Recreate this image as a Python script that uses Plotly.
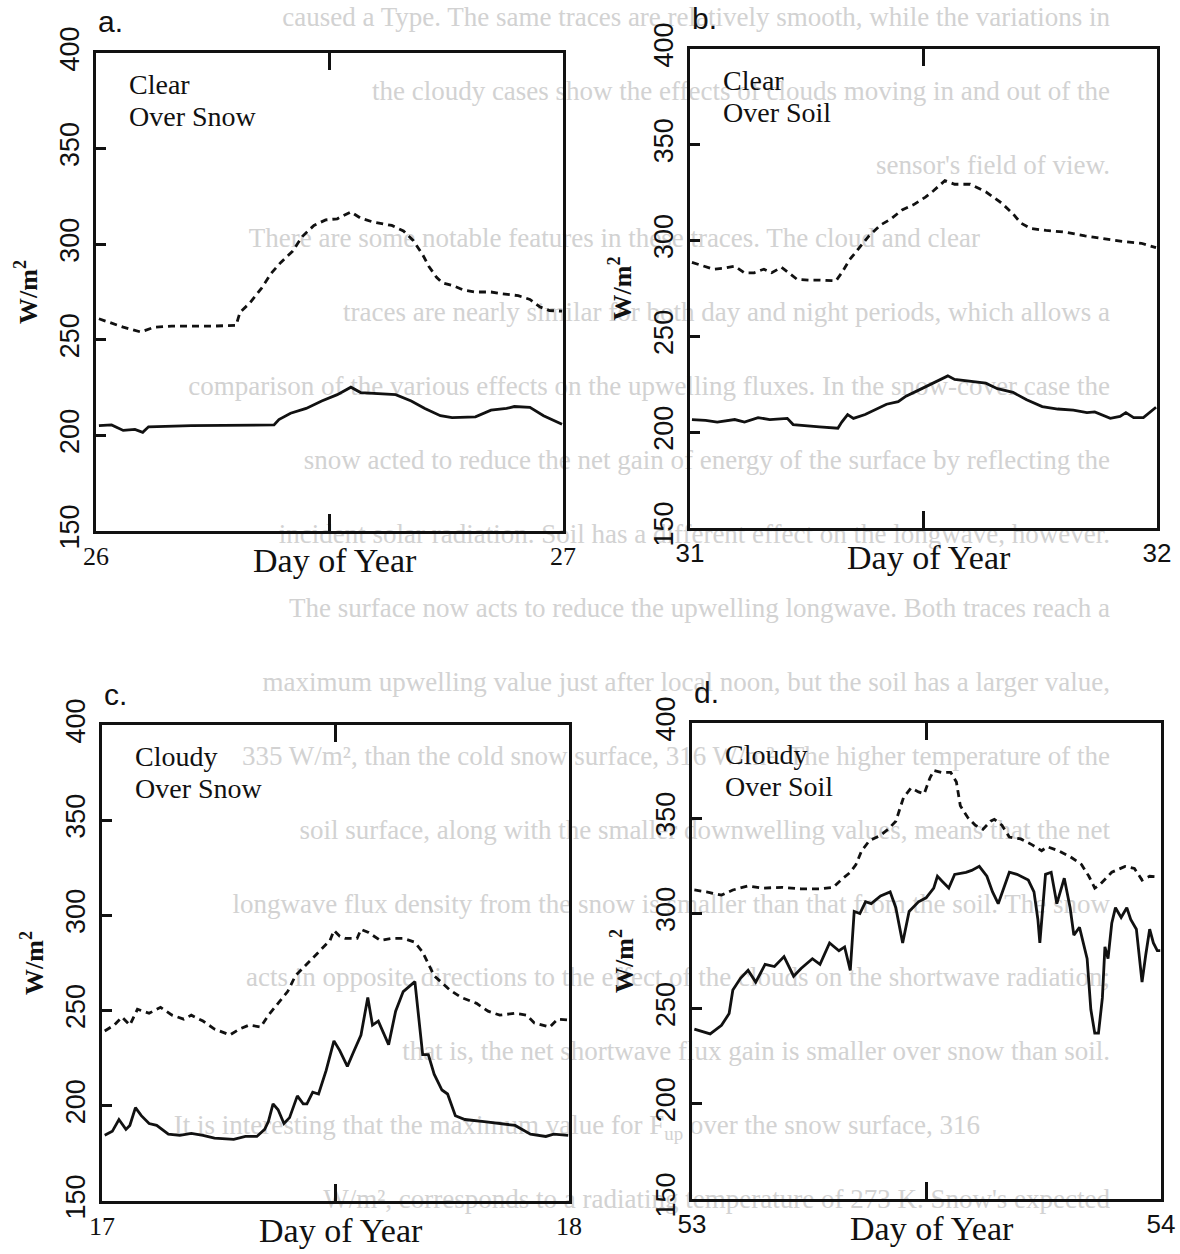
import plotly.graph_objects as go

# ---------------- data: hour of day (0-24) and upwelling flux (W/m^2) ----------------
# a. Clear, over snow (day 26)
a_dash_hr = [0.15, 0.8, 1.4, 2.3, 3.0, 3.9, 4.9, 6.1, 7.2, 7.4, 7.9, 8.5, 9.0, 9.5, 10.1, 10.6,
             11.2, 11.8, 12.4, 13.1, 13.6, 14.2, 15.2, 15.8, 16.3, 16.8, 17.1, 17.5, 17.8, 18.3,
             18.9, 19.5, 20.3, 20.9, 21.7, 22.3, 22.8, 23.3, 23.95]
a_dash_w = [261, 258.6, 256.6, 254.1, 256.6, 257.2, 257.2, 257.2, 257.6, 264.4, 269.2, 276.9,
            284.7, 290.5, 296.3, 304, 309.8, 312.7, 313.3, 316.9, 313.6, 311.7, 309.8, 306.9,
            302, 294.3, 288.5, 282.7, 279.8, 278.5, 276, 275, 275, 274, 273.1, 271.1, 267.3,
            265.3, 265]
a_solid_hr = [0.15, 0.8, 1.4, 2.0, 2.4, 2.7, 4.9, 9.15, 9.4, 10.0, 10.8, 11.6, 12.4, 13.1, 13.6,
              14.8, 15.4, 16.2, 16.9, 17.7, 18.3, 19.5, 20.3, 21.1, 21.5, 22.3, 23.0, 23.95]
a_solid_w = [205.1, 205.5, 202.6, 203.1, 201.6, 204.5, 205.1, 205.5, 208.3, 211.6, 214.1, 218,
             221.3, 225.2, 222.4, 221.7, 221.3, 218, 214.1, 210.3, 209.3, 209.7, 213.2, 214.1,
             215.1, 214.7, 210.3, 205.8]

# b. Clear, over soil (day 31)
b_dash_hr = [0.1, 0.6, 1.2, 1.7, 2.3, 2.8, 3.3, 3.8, 4.2, 4.7, 5.1, 5.5, 6.1, 6.7, 7.5, 7.8, 8.2,
             8.6, 9.2, 9.8, 10.3, 10.9, 11.5, 12.1, 12.5, 13.1, 13.6, 14.4, 15.2, 16.0, 16.6,
             17.0, 17.5, 18.3, 19.3, 20.3, 21.0, 22.2, 23.2, 23.95]
b_dash_w = [288.6, 287.1, 285.1, 285.5, 286.7, 283.2, 283.2, 285.1, 283.2, 286.1, 282.8, 279.8,
            279.4, 279.4, 279.0, 283.2, 290, 294.8, 302.5, 308.2, 311.1, 316, 318.8, 322.7,
            325.9, 331.3, 329.4, 329.4, 325.5, 319.7, 314, 309.2, 306.3, 305.3, 304.4, 302.5,
            301.5, 299.6, 298.6, 296.3]
b_solid_hr = [0.1, 0.8, 1.4, 2.3, 2.8, 3.5, 4.1, 4.7, 5.0, 5.3, 5.9, 6.65, 7.6, 7.8, 8.1, 8.4,
              9.0, 9.6, 10.1, 10.7, 11.1, 11.7, 12.5, 13.25, 13.6, 14.4, 15.2, 15.8, 16.6, 17.3,
              18.1, 18.9, 19.7, 20.4, 20.8, 21.6, 22.1, 22.4, 22.8, 23.3, 23.95]
b_solid_w = [206.6, 206.2, 205.3, 206.6, 205.3, 207.6, 206.6, 207.2, 207.2, 204, 203.4, 202.8,
             202.1, 205.3, 209.2, 207.2, 209.2, 212.1, 214.6, 215.9, 218.8, 221.7, 225.6, 229.4,
             227.5, 226.6, 225.6, 222.7, 220.8, 216.9, 213.4, 212.1, 211.5, 210.2, 210.6, 207.2,
             208.2, 210.2, 207.6, 207.6, 213]

# c. Cloudy, over snow (day 17)
c_dash_hr = [0.14, 0.63, 1.03, 1.43, 1.82, 2.42, 3.01, 3.6, 4.2, 4.59, 5.19, 5.78, 6.57, 7.07,
             7.56, 8.16, 8.55, 8.95, 9.54, 9.94, 10.34, 10.93, 11.33, 11.72, 11.92, 12.22, 12.51,
             13.11, 13.31, 13.7, 14.3, 14.89, 15.49, 16.08, 16.48, 17.07, 17.86, 18.46, 19.25,
             19.84, 20.44, 21.23, 21.82, 22.22, 23.01, 23.41, 23.96]
c_dash_w = [239.3, 242.4, 246.6, 242.4, 250.7, 248.6, 251.7, 247.6, 245.5, 247.6, 244.5, 240.3,
            237.2, 240.3, 242.4, 241.4, 247.6, 252.8, 260, 268.3, 272.4, 278.6, 282.8, 286.9,
            292.1, 289, 287.9, 287.9, 292.7, 291, 286.9, 287.9, 287.9, 285.9, 280.7, 268.3, 261,
            256.9, 253.8, 249.7, 247.6, 248.6, 247.6, 243.5, 241.4, 245.5, 245.1]
c_solid_hr = [0.14, 0.53, 0.87, 1.23, 1.43, 1.72, 2.02, 2.42, 2.81, 3.41, 4.0, 4.59, 5.19, 5.78,
              6.77, 7.37, 7.96, 8.36, 8.55, 8.79, 9.05, 9.35, 9.64, 10.04, 10.34, 10.53, 10.83,
              11.13, 11.52, 11.92, 12.22, 12.61, 12.91, 13.31, 13.66, 13.9, 14.2, 14.49, 14.73,
              15.09, 15.48, 16.08, 16.28, 16.48, 16.77, 17.07, 17.47, 17.76, 18.16, 18.65, 19.64,
              20.44, 21.23, 22.02, 22.81, 23.21, 23.96]
c_solid_w = [184.5, 186.6, 192.8, 187.6, 189.7, 199, 194.8, 190.7, 189.7, 185.1, 184.5, 185.5,
             184.5, 183, 182.4, 183.9, 183.9, 187.6, 191.7, 201, 197.9, 190.7, 193.8, 205.2, 201,
             201, 207.2, 206.2, 218.6, 234.1, 229, 220.7, 227.9, 237.2, 256.9, 242.4, 244.5,
             237.2, 232.1, 249.7, 260, 265.2, 247.6, 226.9, 226.9, 216.6, 208.3, 206.2, 194.8,
             192.8, 191.7, 190.7, 189.7, 185.1, 183.9, 185.1, 184.5]

# d. Cloudy, over soil (day 53)
d_dash_hr = [0.12, 0.74, 1.51, 2.09, 2.87, 3.64, 4.61, 5.58, 6.55, 7.23, 7.62, 8.1, 8.39, 8.68,
             9.07, 9.65, 10.04, 10.43, 10.82, 11.21, 11.59, 11.88, 12.17, 12.37, 12.76, 13.24,
             13.53, 13.73, 14.11, 14.5, 14.89, 15.28, 15.47, 15.86, 16.24, 16.82, 17.41, 17.89,
             18.18, 18.76, 19.35, 19.93, 20.31, 20.61, 20.9, 21.48, 22.16, 22.64, 23.03, 23.42,
             23.9]
d_dash_w = [312.3, 311.3, 309.6, 312.3, 314.4, 313.3, 313.7, 312.9, 312.9, 313.7, 317.5, 321.6,
            325.7, 332.9, 338.1, 341.1, 344.2, 348.4, 360.7, 365.9, 363.8, 362.8, 371, 375.1,
            374.1, 374.1, 369, 356.6, 350.4, 346.3, 344.2, 348.4, 349.4, 346.3, 340.1, 339.1,
            336, 332.9, 335, 332.9, 329.8, 325.7, 319.5, 313.3, 315.4, 321.6, 324.7, 323.6,
            317.5, 319.5, 319.1]
d_solid_hr = [0.12, 0.93, 1.51, 1.9, 2.09, 2.48, 2.87, 3.26, 3.74, 4.22, 4.71, 5.2, 5.58, 6.16,
              6.55, 7.04, 7.52, 7.81, 8.1, 8.3, 8.59, 8.88, 9.17, 9.65, 10.14, 10.43, 10.78,
              11.11, 11.59, 11.98, 12.37, 12.56, 12.85, 13.14, 13.44, 14.02, 14.31, 14.7, 15.09,
              15.38, 15.67, 15.96, 16.24, 16.63, 17.21, 17.5, 17.7, 17.8, 18.09, 18.38, 18.67,
              19.05, 19.35, 19.54, 19.83, 20.22, 20.41, 20.61, 20.8, 21.0, 21.13, 21.29, 21.48,
              21.67, 21.96, 22.25, 22.45, 22.74, 23.03, 23.22, 23.42, 23.61, 23.81, 23.96]
d_solid_w = [239.2, 236.7, 241.2, 247.4, 259.8, 265.9, 270.1, 263.9, 273.2, 272.1, 277.3, 267,
             271.1, 276.2, 273.2, 284.5, 280.4, 282.4, 270.1, 301, 299.9, 306.1, 305.1, 309.2,
             311.3, 303, 284.5, 301, 306.1, 308.2, 313.3, 319.5, 316.4, 313.3, 320.5, 321.6,
             322.6, 324.7, 319.5, 311.3, 305.1, 313.3, 321.6, 320.5, 317.5, 311.3, 296.8, 284.5,
             320.5, 321.6, 305.1, 318.5, 303, 288.6, 292.7, 276.2, 249.5, 237.1, 237.1, 255.6,
             282.4, 276.2, 294.8, 303, 297.9, 303, 296.8, 291.7, 263.9, 278.3, 291.7, 284.5,
             280.4, 280.4]

y_ticks = [150, 200, 250, 300, 350, 400]

# faint typed page text showing through the paper
page_lines = [
    "caused a Type. The same traces are relatively smooth, while the variations in",
    "the cloudy cases show the effects of clouds moving in and out of the",
    "sensor's field of view.",
    "There are some notable features in these traces. The cloud and clear",
    "traces are nearly similar for both day and night periods, which allows a",
    "comparison of the various effects on the upwelling fluxes. In the snow-cover case the",
    "snow acted to reduce the net gain of energy of the surface by reflecting the",
    "incident solar radiation. Soil has a different effect on the longwave, however.",
    "The surface now acts to reduce the upwelling longwave. Both traces reach a",
    "maximum upwelling value just after local noon, but the soil has a larger value,",
    "335 W/m², than the cold snow surface, 316 W/m². The higher temperature of the",
    "soil surface, along with the smaller downwelling values, means that the net",
    "longwave flux density from the snow is smaller than that from the soil. The snow",
    "acts in opposite directions to the effect of the clouds on the shortwave radiation;",
    "that is, the net shortwave flux gain is smaller over snow than soil.",
    "It is interesting that the maximum value for F<sub>up</sub> over the snow surface, 316",
    "W/m², corresponds to a radiating temperature of 273 K. Snow's expected",
]
indented = {3, 15}

W, H = 1180, 1254
INK = "#111111"
fig = go.Figure()

# --- background page text (its own full-page subplot, drawn first); lines end at the right ---
TEXT_RIGHT, TEXT_INDENT, ROW0, ROW_STEP = 1110, 130, 19, 73.9
bx = [TEXT_RIGHT - (TEXT_INDENT if i in indented else 0) for i in range(len(page_lines))]
by = [ROW0 + i * ROW_STEP for i in range(len(page_lines))]
fig.add_trace(go.Scatter(
    x=bx, y=by, text=page_lines, mode="text", textposition="middle left",
    textfont=dict(family="Liberation Serif", size=27, color="#d2d2d2"),
    xaxis="x", yaxis="y", hoverinfo="skip", showlegend=False, cliponaxis=False))

# --- the four panels ---
panels = [
    dict(letter="a.", day=26, box=(96, 563, 53, 531), num_font="Liberation Serif",
         dash=(a_dash_hr, a_dash_w), solid=(a_solid_hr, a_solid_w),
         caption=("Clear", "Over Snow")),
    dict(letter="b.", day=31, box=(690, 1157, 49, 528), num_font="Liberation Sans",
         dash=(b_dash_hr, b_dash_w), solid=(b_solid_hr, b_solid_w),
         caption=("Clear", "Over Soil")),
    dict(letter="c.", day=17, box=(102, 569, 725, 1201), num_font="Liberation Serif",
         dash=(c_dash_hr, c_dash_w), solid=(c_solid_hr, c_solid_w),
         caption=("Cloudy", "Over Snow")),
    dict(letter="d.", day=53, box=(692, 1161, 723, 1199), num_font="Liberation Sans",
         dash=(d_dash_hr, d_dash_w), solid=(d_solid_hr, d_solid_w),
         caption=("Cloudy", "Over Soil")),
]

layout = dict(
    template="none",
    width=W, height=H, margin=dict(l=0, r=0, t=0, b=0, pad=0, autoexpand=False),
    paper_bgcolor="white", plot_bgcolor="rgba(0,0,0,0)", showlegend=False,
    xaxis=dict(domain=[0, 1], range=[0, W], visible=False, fixedrange=True, automargin=False),
    yaxis=dict(domain=[0, 1], range=[H, 0], visible=False, fixedrange=True, automargin=False),
)
annotations = []

for k, p in enumerate(panels, start=2):
    xa, ya = f"x{k}", f"y{k}"
    d0 = p["day"]
    for (hr, w), dash in ((p["dash"], "7px,5px"), (p["solid"], "solid")):
        fig.add_trace(go.Scatter(
            x=[d0 + h / 24 for h in hr], y=w, mode="lines",
            line=dict(color=INK, width=2.8, dash=dash),
            xaxis=xa, yaxis=ya, hoverinfo="skip", showlegend=False))

    left, right, top, bottom = p["box"]
    layout[f"xaxis{k}"] = dict(
        domain=[left / W, right / W], range=[d0, d0 + 1], anchor=ya, automargin=False,
        tickvals=[d0, d0 + 1], ticktext=[str(d0), str(d0 + 1)], ticks="",
        minor=dict(tickvals=[d0 + 0.5], ticks="inside", ticklen=17, tickwidth=2.5,
                   tickcolor=INK, showgrid=False),
        showline=True, linecolor=INK, linewidth=3, mirror="allticks",
        showgrid=False, zeroline=False, ticklabelstandoff=0,
        tickfont=dict(family=p["num_font"], size=26, color=INK), fixedrange=True)
    layout[f"yaxis{k}"] = dict(
        domain=[1 - bottom / H, 1 - top / H], range=[150, 400], anchor=xa, automargin=False,
        tickvals=y_ticks, ticks="inside", ticklen=10, tickwidth=2.5, tickcolor=INK,
        showline=True, linecolor=INK, linewidth=3, mirror=True,
        showgrid=False, zeroline=False, tickangle=-90, ticklabelstandoff=3,
        tickfont=dict(family="Liberation Sans", size=27, color=INK), fixedrange=True,
        title=dict(text="<b>W/m<sup>2</sup></b>", standoff=11,
                   font=dict(family="Liberation Serif", size=26, color=INK)))

    xd, yd = f"{xa} domain", f"{ya} domain"
    annotations += [
        dict(text=p["letter"], xref=xd, yref=yd, x=0, y=1, xanchor="left", yanchor="middle",
             yshift=31, showarrow=False,
             font=dict(family="Liberation Sans", size=30, color=INK)),
        dict(text=p["caption"][0], xref=xd, yref=yd, x=0, y=1, xanchor="left", yanchor="top",
             xshift=31, yshift=-14, showarrow=False,
             font=dict(family="Liberation Serif", size=28, color=INK)),
        dict(text=p["caption"][1], xref=xd, yref=yd, x=0, y=1, xanchor="left", yanchor="top",
             xshift=31, yshift=-46, showarrow=False,
             font=dict(family="Liberation Serif", size=28, color=INK)),
        dict(text="Day of Year", xref=xd, yref=yd, x=0.5, y=0, xanchor="center", yanchor="top",
             xshift=5, yshift=-9, showarrow=False,
             font=dict(family="Liberation Serif", size=34, color=INK)),
    ]

layout["annotations"] = annotations
fig.update_layout(**layout)
fig.write_html("out.html")
